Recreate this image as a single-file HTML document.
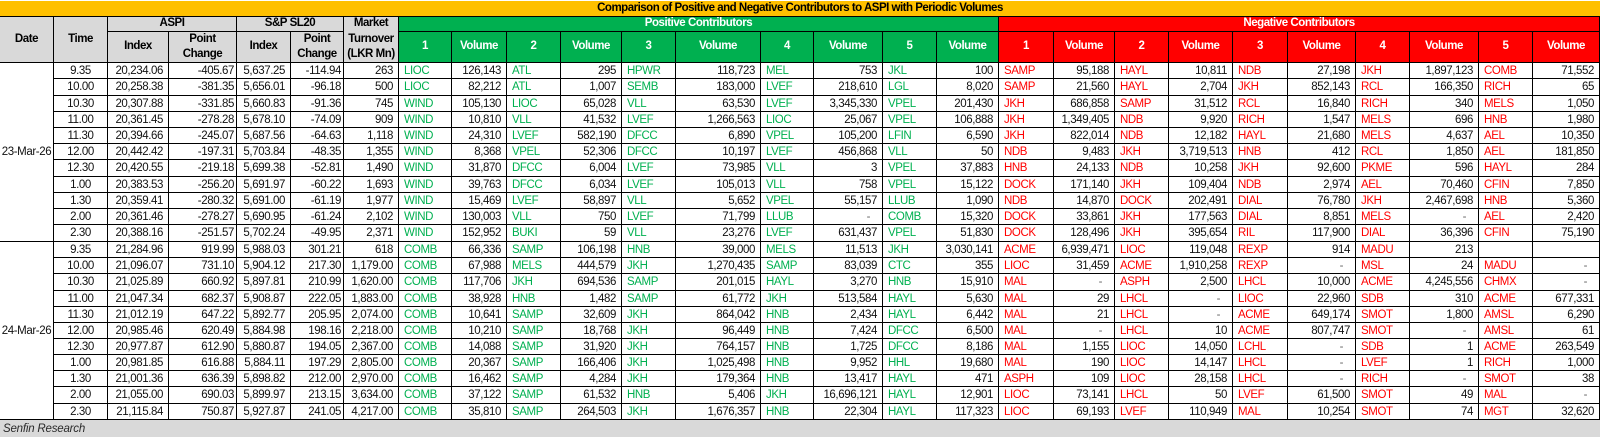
<!DOCTYPE html>
<html><head><meta charset="utf-8">
<style>
*{margin:0;padding:0;box-sizing:border-box}
html,body{width:1600px;height:437px;background:#fff;overflow:hidden}
body{position:relative;font-family:"Liberation Sans",Arial,sans-serif;font-size:11.5px;letter-spacing:-0.4px;color:#111}
.t{position:absolute;left:0;top:1px;width:1600px;height:16px;background:#FFC000;border-bottom:1px solid #000;text-align:center;font-weight:bold;line-height:15px;letter-spacing:-0.5px;color:#000}
.grid{position:absolute;left:0;top:17px;display:grid;
grid-template-columns:54px 54px 61px 68px 54px 53px 55px 53px 55px 54px 61px 54px 85px 53px 69px 54px 62px 55px 61px 54px 64px 55px 68px 54px 69px 54px 67px;
grid-template-rows:15px 31px 16px 17px 16px 16px 16px 16px 17px 16px 16px 16px 17px 16px 16px 17px 16px 16px 16px 16px 16px 16px 17px 16px}
.grid>div{border-right:1px solid #000;border-bottom:1px solid #000;display:flex;align-items:center;white-space:nowrap;overflow:hidden;padding:0 5px}
.grid>.h{background:#d9d9d9;font-weight:bold;justify-content:center;text-align:center;letter-spacing:-0.45px;line-height:15.5px;color:#000;padding:0 2px}
.grid>.pg{background:#00B050;color:#fff}
.grid>.ng{background:#FF0000;color:#fff}
.r2{grid-row:span 2}
.c2{grid-column:span 2}
.c10{grid-column:span 10}
.grid>.dt{grid-row:span 11;justify-content:center;padding:0}
.c{justify-content:center}
.n{justify-content:flex-end}
.grid>.p{justify-content:flex-end;padding-right:2px}
.grid>.z{justify-content:flex-end;padding-right:12px;color:#666}
.g{color:#00B050}
.r{color:#FF0000}
.f{position:absolute;left:0;top:420px;width:1600px;height:17px;background:#d9d9d9;font-style:italic;padding-left:3px;padding-top:1px;line-height:16px;color:#2a2a2a;letter-spacing:-0.2px}
</style></head><body>
<div class="t">Comparison of Positive and Negative Contributors to ASPI with Periodic Volumes</div>
<div class="grid">
<div class="h r2">Date</div><div class="h r2">Time</div><div class="h c2">ASPI</div><div class="h c2">S&amp;P SL20</div><div class="h r2">Market<br>Turnover<br>(LKR Mn)</div><div class="h pg c10">Positive Contributors</div><div class="h ng c10">Negative Contributors</div>
<div class="h">Index</div><div class="h">Point<br>Change</div><div class="h">Index</div><div class="h">Point<br>Change</div>
<div class="h pg">1</div><div class="h pg">Volume</div><div class="h pg">2</div><div class="h pg">Volume</div><div class="h pg">3</div><div class="h pg">Volume</div><div class="h pg">4</div><div class="h pg">Volume</div><div class="h pg">5</div><div class="h pg">Volume</div>
<div class="h ng">1</div><div class="h ng">Volume</div><div class="h ng">2</div><div class="h ng">Volume</div><div class="h ng">3</div><div class="h ng">Volume</div><div class="h ng">4</div><div class="h ng">Volume</div><div class="h ng">5</div><div class="h ng">Volume</div>

<div class="dt">23-Mar-26</div>
<div class="c">9.35</div><div class="n">20,234.06</div><div class="p">-405.67</div><div class="n">5,637.25</div><div class="p">-114.94</div><div class="n">263</div><div class="g">LIOC</div><div class="n">126,143</div><div class="g">ATL</div><div class="n">295</div><div class="g">HPWR</div><div class="n">118,723</div><div class="g">MEL</div><div class="n">753</div><div class="g">JKL</div><div class="n">100</div><div class="r">SAMP</div><div class="n">95,188</div><div class="r">HAYL</div><div class="n">10,811</div><div class="r">NDB</div><div class="n">27,198</div><div class="r">JKH</div><div class="n">1,897,123</div><div class="r">COMB</div><div class="n">71,552</div>
<div class="c">10.00</div><div class="n">20,258.38</div><div class="p">-381.35</div><div class="n">5,656.01</div><div class="p">-96.18</div><div class="n">500</div><div class="g">LIOC</div><div class="n">82,212</div><div class="g">ATL</div><div class="n">1,007</div><div class="g">SEMB</div><div class="n">183,000</div><div class="g">LVEF</div><div class="n">218,610</div><div class="g">LGL</div><div class="n">8,020</div><div class="r">SAMP</div><div class="n">21,560</div><div class="r">HAYL</div><div class="n">2,704</div><div class="r">JKH</div><div class="n">852,143</div><div class="r">RCL</div><div class="n">166,350</div><div class="r">RICH</div><div class="n">65</div>
<div class="c">10.30</div><div class="n">20,307.88</div><div class="p">-331.85</div><div class="n">5,660.83</div><div class="p">-91.36</div><div class="n">745</div><div class="g">WIND</div><div class="n">105,130</div><div class="g">LIOC</div><div class="n">65,028</div><div class="g">VLL</div><div class="n">63,530</div><div class="g">LVEF</div><div class="n">3,345,330</div><div class="g">VPEL</div><div class="n">201,430</div><div class="r">JKH</div><div class="n">686,858</div><div class="r">SAMP</div><div class="n">31,512</div><div class="r">RCL</div><div class="n">16,840</div><div class="r">RICH</div><div class="n">340</div><div class="r">MELS</div><div class="n">1,050</div>
<div class="c">11.00</div><div class="n">20,361.45</div><div class="p">-278.28</div><div class="n">5,678.10</div><div class="p">-74.09</div><div class="n">909</div><div class="g">WIND</div><div class="n">10,810</div><div class="g">VLL</div><div class="n">41,532</div><div class="g">LVEF</div><div class="n">1,266,563</div><div class="g">LIOC</div><div class="n">25,067</div><div class="g">VPEL</div><div class="n">106,888</div><div class="r">JKH</div><div class="n">1,349,405</div><div class="r">NDB</div><div class="n">9,920</div><div class="r">RICH</div><div class="n">1,547</div><div class="r">MELS</div><div class="n">696</div><div class="r">HNB</div><div class="n">1,980</div>
<div class="c">11.30</div><div class="n">20,394.66</div><div class="p">-245.07</div><div class="n">5,687.56</div><div class="p">-64.63</div><div class="n">1,118</div><div class="g">WIND</div><div class="n">24,310</div><div class="g">LVEF</div><div class="n">582,190</div><div class="g">DFCC</div><div class="n">6,890</div><div class="g">VPEL</div><div class="n">105,200</div><div class="g">LFIN</div><div class="n">6,590</div><div class="r">JKH</div><div class="n">822,014</div><div class="r">NDB</div><div class="n">12,182</div><div class="r">HAYL</div><div class="n">21,680</div><div class="r">MELS</div><div class="n">4,637</div><div class="r">AEL</div><div class="n">10,350</div>
<div class="c">12.00</div><div class="n">20,442.42</div><div class="p">-197.31</div><div class="n">5,703.84</div><div class="p">-48.35</div><div class="n">1,355</div><div class="g">WIND</div><div class="n">8,368</div><div class="g">VPEL</div><div class="n">52,306</div><div class="g">DFCC</div><div class="n">10,197</div><div class="g">LVEF</div><div class="n">456,868</div><div class="g">VLL</div><div class="n">50</div><div class="r">NDB</div><div class="n">9,483</div><div class="r">JKH</div><div class="n">3,719,513</div><div class="r">HNB</div><div class="n">412</div><div class="r">RCL</div><div class="n">1,850</div><div class="r">AEL</div><div class="n">181,850</div>
<div class="c">12.30</div><div class="n">20,420.55</div><div class="p">-219.18</div><div class="n">5,699.38</div><div class="p">-52.81</div><div class="n">1,490</div><div class="g">WIND</div><div class="n">31,870</div><div class="g">DFCC</div><div class="n">6,004</div><div class="g">LVEF</div><div class="n">73,985</div><div class="g">VLL</div><div class="n">3</div><div class="g">VPEL</div><div class="n">37,883</div><div class="r">HNB</div><div class="n">24,133</div><div class="r">NDB</div><div class="n">10,258</div><div class="r">JKH</div><div class="n">92,600</div><div class="r">PKME</div><div class="n">596</div><div class="r">HAYL</div><div class="n">284</div>
<div class="c">1.00</div><div class="n">20,383.53</div><div class="p">-256.20</div><div class="n">5,691.97</div><div class="p">-60.22</div><div class="n">1,693</div><div class="g">WIND</div><div class="n">39,763</div><div class="g">DFCC</div><div class="n">6,034</div><div class="g">LVEF</div><div class="n">105,013</div><div class="g">VLL</div><div class="n">758</div><div class="g">VPEL</div><div class="n">15,122</div><div class="r">DOCK</div><div class="n">171,140</div><div class="r">JKH</div><div class="n">109,404</div><div class="r">NDB</div><div class="n">2,974</div><div class="r">AEL</div><div class="n">70,460</div><div class="r">CFIN</div><div class="n">7,850</div>
<div class="c">1.30</div><div class="n">20,359.41</div><div class="p">-280.32</div><div class="n">5,691.00</div><div class="p">-61.19</div><div class="n">1,977</div><div class="g">WIND</div><div class="n">15,469</div><div class="g">LVEF</div><div class="n">58,897</div><div class="g">VLL</div><div class="n">5,652</div><div class="g">VPEL</div><div class="n">55,157</div><div class="g">LLUB</div><div class="n">1,090</div><div class="r">NDB</div><div class="n">14,870</div><div class="r">DOCK</div><div class="n">202,491</div><div class="r">DIAL</div><div class="n">76,780</div><div class="r">JKH</div><div class="n">2,467,698</div><div class="r">HNB</div><div class="n">5,360</div>
<div class="c">2.00</div><div class="n">20,361.46</div><div class="p">-278.27</div><div class="n">5,690.95</div><div class="p">-61.24</div><div class="n">2,102</div><div class="g">WIND</div><div class="n">130,003</div><div class="g">VLL</div><div class="n">750</div><div class="g">LVEF</div><div class="n">71,799</div><div class="g">LLUB</div><div class="z">-</div><div class="g">COMB</div><div class="n">15,320</div><div class="r">DOCK</div><div class="n">33,861</div><div class="r">JKH</div><div class="n">177,563</div><div class="r">DIAL</div><div class="n">8,851</div><div class="r">MELS</div><div class="z">-</div><div class="r">AEL</div><div class="n">2,420</div>
<div class="c">2.30</div><div class="n">20,388.16</div><div class="p">-251.57</div><div class="n">5,702.24</div><div class="p">-49.95</div><div class="n">2,371</div><div class="g">WIND</div><div class="n">152,952</div><div class="g">BUKI</div><div class="n">59</div><div class="g">VLL</div><div class="n">23,276</div><div class="g">LVEF</div><div class="n">631,437</div><div class="g">VPEL</div><div class="n">51,830</div><div class="r">DOCK</div><div class="n">128,496</div><div class="r">JKH</div><div class="n">395,654</div><div class="r">RIL</div><div class="n">117,900</div><div class="r">DIAL</div><div class="n">36,396</div><div class="r">CFIN</div><div class="n">75,190</div>

<div class="dt">24-Mar-26</div>
<div class="c">9.35</div><div class="n">21,284.96</div><div class="p">919.99</div><div class="n">5,988.03</div><div class="p">301.21</div><div class="n">618</div><div class="g">COMB</div><div class="n">66,336</div><div class="g">SAMP</div><div class="n">106,198</div><div class="g">HNB</div><div class="n">39,000</div><div class="g">MELS</div><div class="n">11,513</div><div class="g">JKH</div><div class="n">3,030,141</div><div class="r">ACME</div><div class="n">6,939,471</div><div class="r">LIOC</div><div class="n">119,048</div><div class="r">REXP</div><div class="n">914</div><div class="r">MADU</div><div class="n">213</div><div class="r"></div><div class="n"></div>
<div class="c">10.00</div><div class="n">21,096.07</div><div class="p">731.10</div><div class="n">5,904.12</div><div class="p">217.30</div><div class="n">1,179.00</div><div class="g">COMB</div><div class="n">67,988</div><div class="g">MELS</div><div class="n">444,579</div><div class="g">JKH</div><div class="n">1,270,435</div><div class="g">SAMP</div><div class="n">83,039</div><div class="g">CTC</div><div class="n">355</div><div class="r">LIOC</div><div class="n">31,459</div><div class="r">ACME</div><div class="n">1,910,258</div><div class="r">REXP</div><div class="z">-</div><div class="r">MSL</div><div class="n">24</div><div class="r">MADU</div><div class="z">-</div>
<div class="c">10.30</div><div class="n">21,025.89</div><div class="p">660.92</div><div class="n">5,897.81</div><div class="p">210.99</div><div class="n">1,620.00</div><div class="g">COMB</div><div class="n">117,706</div><div class="g">JKH</div><div class="n">694,536</div><div class="g">SAMP</div><div class="n">201,015</div><div class="g">HAYL</div><div class="n">3,270</div><div class="g">HNB</div><div class="n">15,910</div><div class="r">MAL</div><div class="z">-</div><div class="r">ASPH</div><div class="n">2,500</div><div class="r">LHCL</div><div class="n">10,000</div><div class="r">ACME</div><div class="n">4,245,556</div><div class="r">CHMX</div><div class="z">-</div>
<div class="c">11.00</div><div class="n">21,047.34</div><div class="p">682.37</div><div class="n">5,908.87</div><div class="p">222.05</div><div class="n">1,883.00</div><div class="g">COMB</div><div class="n">38,928</div><div class="g">HNB</div><div class="n">1,482</div><div class="g">SAMP</div><div class="n">61,772</div><div class="g">JKH</div><div class="n">513,584</div><div class="g">HAYL</div><div class="n">5,630</div><div class="r">MAL</div><div class="n">29</div><div class="r">LHCL</div><div class="z">-</div><div class="r">LIOC</div><div class="n">22,960</div><div class="r">SDB</div><div class="n">310</div><div class="r">ACME</div><div class="n">677,331</div>
<div class="c">11.30</div><div class="n">21,012.19</div><div class="p">647.22</div><div class="n">5,892.77</div><div class="p">205.95</div><div class="n">2,074.00</div><div class="g">COMB</div><div class="n">10,641</div><div class="g">SAMP</div><div class="n">32,609</div><div class="g">JKH</div><div class="n">864,042</div><div class="g">HNB</div><div class="n">2,434</div><div class="g">HAYL</div><div class="n">6,442</div><div class="r">MAL</div><div class="n">21</div><div class="r">LHCL</div><div class="z">-</div><div class="r">ACME</div><div class="n">649,174</div><div class="r">SMOT</div><div class="n">1,800</div><div class="r">AMSL</div><div class="n">6,290</div>
<div class="c">12.00</div><div class="n">20,985.46</div><div class="p">620.49</div><div class="n">5,884.98</div><div class="p">198.16</div><div class="n">2,218.00</div><div class="g">COMB</div><div class="n">10,210</div><div class="g">SAMP</div><div class="n">18,768</div><div class="g">JKH</div><div class="n">96,449</div><div class="g">HNB</div><div class="n">7,424</div><div class="g">DFCC</div><div class="n">6,500</div><div class="r">MAL</div><div class="z">-</div><div class="r">LHCL</div><div class="n">10</div><div class="r">ACME</div><div class="n">807,747</div><div class="r">SMOT</div><div class="z">-</div><div class="r">AMSL</div><div class="n">61</div>
<div class="c">12.30</div><div class="n">20,977.87</div><div class="p">612.90</div><div class="n">5,880.87</div><div class="p">194.05</div><div class="n">2,367.00</div><div class="g">COMB</div><div class="n">14,088</div><div class="g">SAMP</div><div class="n">31,920</div><div class="g">JKH</div><div class="n">764,157</div><div class="g">HNB</div><div class="n">1,725</div><div class="g">DFCC</div><div class="n">8,186</div><div class="r">MAL</div><div class="n">1,155</div><div class="r">LIOC</div><div class="n">14,050</div><div class="r">LCHL</div><div class="z">-</div><div class="r">SDB</div><div class="n">1</div><div class="r">ACME</div><div class="n">263,549</div>
<div class="c">1.00</div><div class="n">20,981.85</div><div class="p">616.88</div><div class="n">5,884.11</div><div class="p">197.29</div><div class="n">2,805.00</div><div class="g">COMB</div><div class="n">20,367</div><div class="g">SAMP</div><div class="n">166,406</div><div class="g">JKH</div><div class="n">1,025,498</div><div class="g">HNB</div><div class="n">9,952</div><div class="g">HHL</div><div class="n">19,680</div><div class="r">MAL</div><div class="n">190</div><div class="r">LIOC</div><div class="n">14,147</div><div class="r">LHCL</div><div class="z">-</div><div class="r">LVEF</div><div class="n">1</div><div class="r">RICH</div><div class="n">1,000</div>
<div class="c">1.30</div><div class="n">21,001.36</div><div class="p">636.39</div><div class="n">5,898.82</div><div class="p">212.00</div><div class="n">2,970.00</div><div class="g">COMB</div><div class="n">16,462</div><div class="g">SAMP</div><div class="n">4,284</div><div class="g">JKH</div><div class="n">179,364</div><div class="g">HNB</div><div class="n">13,417</div><div class="g">HAYL</div><div class="n">471</div><div class="r">ASPH</div><div class="n">109</div><div class="r">LIOC</div><div class="n">28,158</div><div class="r">LHCL</div><div class="z">-</div><div class="r">RICH</div><div class="z">-</div><div class="r">SMOT</div><div class="n">38</div>
<div class="c">2.00</div><div class="n">21,055.00</div><div class="p">690.03</div><div class="n">5,899.97</div><div class="p">213.15</div><div class="n">3,634.00</div><div class="g">COMB</div><div class="n">37,122</div><div class="g">SAMP</div><div class="n">61,532</div><div class="g">HNB</div><div class="n">5,406</div><div class="g">JKH</div><div class="n">16,696,121</div><div class="g">HAYL</div><div class="n">12,901</div><div class="r">LIOC</div><div class="n">73,141</div><div class="r">LHCL</div><div class="n">50</div><div class="r">LVEF</div><div class="n">61,500</div><div class="r">SMOT</div><div class="n">49</div><div class="r">MAL</div><div class="z">-</div>
<div class="c">2.30</div><div class="n">21,115.84</div><div class="p">750.87</div><div class="n">5,927.87</div><div class="p">241.05</div><div class="n">4,217.00</div><div class="g">COMB</div><div class="n">35,810</div><div class="g">SAMP</div><div class="n">264,503</div><div class="g">JKH</div><div class="n">1,676,357</div><div class="g">HNB</div><div class="n">22,304</div><div class="g">HAYL</div><div class="n">117,323</div><div class="r">LIOC</div><div class="n">69,193</div><div class="r">LVEF</div><div class="n">110,949</div><div class="r">MAL</div><div class="n">10,254</div><div class="r">SMOT</div><div class="n">74</div><div class="r">MGT</div><div class="n">32,620</div>
</div>
<div class="f">Senfin Research</div>
</body></html>
